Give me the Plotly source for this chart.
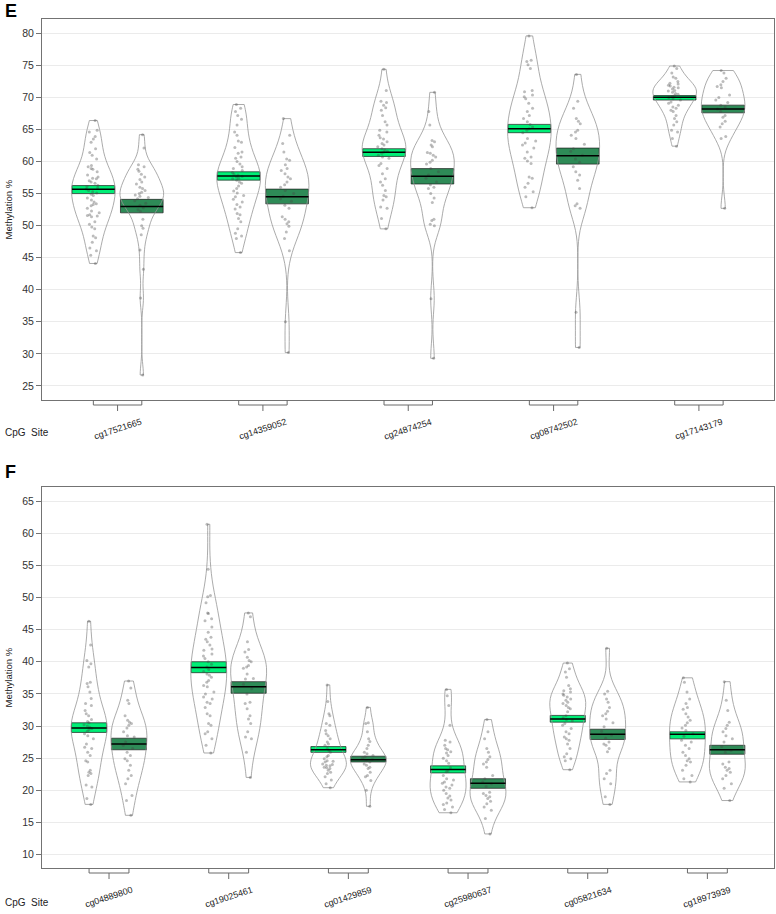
import numpy as np
import plotly.graph_objects as go

# ---------------- data ----------------
E_sites = ["cg17521665", "cg14359052", "cg24874254", "cg08742502", "cg17143179"]
F_sites = ["cg04889800", "cg19025461", "cg01429859", "cg25980637", "cg05821634", "cg18973939"]

# panel E, group A (bright green) / group B (dark green) sample values
E_A1 = [66.4, 64.9, 64.6, 63.9, 63.5, 63.0, 62.0, 61.4, 61.0, 60.4, 59.4, 59.2, 58.9, 58.8, 58.4, 57.9, 57.6, 57.4, 57.3, 57.0,
        56.8, 56.6, 56.3, 56.1, 55.9, 55.7, 55.5, 55.3, 55.1, 54.9, 54.7, 54.3, 54.0, 53.7, 53.4, 53.3, 53.1, 52.7, 52.3, 52.0,
        51.7, 51.6, 51.5, 51.4, 50.6, 50.2, 49.8, 49.5, 48.4, 48.1, 47.4, 46.5, 46.1, 45.4, 44.1]
E_B1 = [64.2, 62.1, 59.5, 59.2, 58.8, 58.5, 58.0, 57.6, 57.2, 56.8, 56.5, 56.0, 55.8, 55.5, 55.2, 55.0, 54.8, 54.6, 54.4, 54.2,
        53.9, 53.5, 53.2, 52.8, 52.5, 52.2, 51.0, 50.0, 49.6, 48.6, 46.2, 43.2, 38.7, 26.7]
E_A2 = [68.9, 68.3, 67.8, 67.2, 66.6, 65.7, 64.6, 64.1, 63.2, 63.0, 62.2, 61.5, 61.3, 60.7, 60.5, 60.0, 59.6, 59.2, 58.9, 58.6,
        58.3, 58.0, 57.9, 57.7, 57.6, 57.4, 57.3, 57.1, 56.8, 56.6, 56.2, 55.8, 55.4, 55.1, 54.7, 54.5, 54.1, 53.7, 53.3, 52.9,
        52.6, 51.9, 51.7, 51.1, 50.6, 49.5, 48.8, 48.4, 48.0, 45.8]
E_B2 = [66.7, 64.1, 62.8, 61.5, 60.4, 60.2, 59.5, 58.9, 58.6, 58.1, 57.6, 57.3, 56.8, 56.4, 56.0, 55.5, 55.0, 54.6, 54.2, 53.8,
        53.2, 52.7, 51.4, 51.0, 50.6, 50.3, 49.9, 49.0, 48.0, 46.1, 35.0, 30.2]
E_A3 = [74.4, 71.1, 69.4, 69.2, 68.8, 68.4, 68.0, 67.2, 66.2, 65.7, 64.9, 64.6, 64.1, 63.7, 63.5, 63.1, 62.8, 62.6, 62.3, 62.0,
        61.8, 61.6, 61.5, 61.3, 61.0, 60.7, 60.5, 59.7, 59.4, 58.9, 58.1, 57.3, 56.8, 56.3, 55.5, 54.7, 54.5, 54.0, 52.9, 52.7,
        51.1, 49.5]
E_B3 = [70.8, 67.8, 65.7, 63.3, 63.1, 62.6, 62.3, 61.4, 61.3, 61.0, 60.7, 60.2, 59.9, 59.6, 58.9, 58.4, 57.9, 57.4, 56.8, 56.4,
        56.0, 55.8, 55.0, 54.3, 53.6, 51.0, 50.8, 50.2, 50.0, 38.6, 29.3]
E_A4 = [79.6, 75.8, 75.6, 75.1, 74.5, 71.1, 70.9, 70.4, 70.1, 69.8, 69.1, 68.3, 67.8, 67.2, 66.7, 66.2, 65.8, 65.4, 65.1, 64.9,
        64.5, 63.6, 63.2, 62.9, 62.6, 62.1, 61.5, 60.7, 60.5, 60.1, 59.7, 57.6, 57.4, 56.6, 56.0, 55.3, 54.5, 52.8]
E_B4 = [73.6, 69.4, 68.3, 66.7, 66.3, 65.9, 64.9, 64.6, 64.1, 63.6, 62.7, 62.0, 61.6, 61.0, 60.4, 59.9, 59.2, 58.4, 57.9, 57.1,
        55.8, 53.4, 53.1, 52.7, 36.5, 31.0]
E_A5 = [74.9, 74.5, 73.8, 73.2, 73.0, 72.5, 72.2, 72.1, 71.9, 71.8, 71.6, 71.5, 71.3, 71.1, 71.0, 70.8, 70.6, 70.5, 70.3, 70.2,
        70.0, 69.8, 69.6, 69.3, 69.1, 68.8, 68.5, 68.3, 68.0, 67.8, 67.2, 66.7, 66.2, 65.7, 64.9, 64.6, 63.6, 62.4]
E_B5 = [74.2, 73.8, 73.0, 72.5, 72.0, 71.7, 71.5, 70.4, 70.0, 69.6, 69.2, 68.8, 68.5, 68.2, 67.8, 67.2, 66.9, 66.3, 65.9, 65.4,
        63.9, 63.6, 52.7]

# panel F samples
F_A1 = [46.3, 42.6, 40.2, 39.7, 39.2, 36.8, 36.6, 36.1, 35.3, 34.3, 33.5, 33.2, 32.4, 31.9, 31.6, 31.0, 30.7, 30.5, 30.2, 30.0,
        29.8, 29.6, 29.4, 29.2, 28.8, 28.5, 28.0, 27.2, 26.7, 26.5, 25.9, 25.4, 24.6, 24.4, 23.1, 22.8, 22.6, 22.3, 20.8, 20.5,
        18.7, 17.8]
F_B1 = [37.0, 35.9, 34.0, 33.5, 31.6, 30.9, 30.6, 30.4, 30.1, 29.7, 29.1, 28.5, 28.3, 27.5, 27.0, 26.5, 25.9, 25.4, 24.9, 24.6,
        23.9, 23.1, 22.3, 21.8, 21.0, 19.2, 18.4, 16.1]
F_A2 = [61.4, 54.4, 50.3, 50.1, 49.2, 47.6, 47.5, 46.7, 46.4, 45.4, 44.6, 43.8, 43.5, 43.1, 42.6, 42.0, 41.8, 41.2, 40.9, 40.5,
        40.0, 39.6, 39.2, 38.8, 38.5, 38.1, 37.9, 37.6, 37.1, 36.8, 36.3, 36.1, 35.3, 35.0, 34.5, 34.2, 33.7, 33.5, 32.9, 31.9,
        31.6, 30.4, 30.1, 29.1, 28.8, 28.0, 27.0, 25.8]
F_B2 = [47.6, 47.0, 43.1, 41.9, 41.5, 40.7, 40.2, 40.0, 39.4, 39.2, 39.0, 38.1, 37.4, 37.3, 36.5, 35.8, 35.0, 33.7, 33.5, 32.7,
        31.6, 31.1, 30.4, 29.1, 28.3, 28.0, 25.9, 22.0]
F_A3 = [36.4, 33.8, 31.9, 31.6, 30.4, 30.1, 29.3, 28.8, 28.5, 28.0, 27.5, 27.2, 27.0, 26.5, 26.2, 25.9, 25.4, 25.2, 24.9, 24.6,
        24.5, 24.4, 24.1, 24.0, 23.9, 23.8, 23.6, 23.5, 23.4, 23.1, 22.8, 22.6, 22.1, 21.6, 21.0, 20.4]
F_B3 = [32.9, 30.5, 30.4, 29.1, 28.0, 27.6, 27.0, 26.5, 25.9, 25.7, 25.4, 25.2, 25.0, 24.8, 24.6, 24.4, 24.1, 23.9, 23.6, 23.4,
        22.8, 22.3, 22.1, 21.5, 20.0, 17.5]
F_A4 = [35.7, 34.7, 33.2, 30.1, 27.8, 27.5, 27.0, 26.5, 26.3, 26.0, 25.8, 25.4, 25.0, 24.6, 24.2, 23.5, 23.0, 22.9, 22.3, 21.8,
        21.6, 21.3, 21.1, 20.8, 20.5, 20.3, 20.0, 19.5, 19.1, 18.8, 18.5, 18.0, 17.8, 17.4, 17.0, 16.5]
F_B4 = [31.0, 29.1, 28.0, 26.5, 25.9, 25.2, 24.8, 24.4, 24.1, 23.6, 22.3, 21.8, 21.3, 21.0, 20.6, 19.7, 19.5, 19.2, 19.0, 18.7,
        18.3, 17.9, 17.4, 16.9, 15.6, 13.2]
F_A5 = [39.8, 38.9, 38.4, 37.6, 36.3, 35.8, 35.5, 35.3, 35.0, 34.8, 34.5, 34.2, 34.0, 33.7, 33.5, 33.2, 32.9, 32.7, 32.2, 31.6,
        31.3, 31.0, 30.8, 30.4, 30.1, 29.6, 29.1, 28.8, 28.3, 28.0, 27.8, 27.2, 26.5, 25.7, 25.2, 24.9, 24.6, 23.2]
F_B5 = [42.1, 35.4, 35.0, 34.2, 33.7, 32.9, 32.3, 31.9, 31.6, 31.1, 30.5, 29.9, 29.2, 28.6, 28.1, 27.5, 27.2, 27.0, 26.5, 26.0,
        23.1, 22.6, 21.8, 21.0, 19.0, 17.8]
F_A6 = [37.5, 36.8, 35.3, 34.2, 33.5, 32.9, 32.6, 31.9, 31.4, 30.9, 30.5, 30.1, 29.7, 29.3, 28.8, 28.4, 27.8, 27.5, 27.0, 26.5,
        25.9, 25.4, 24.9, 24.6, 24.4, 23.9, 23.1, 22.3, 21.8, 21.3]
F_B6 = [36.9, 34.0, 32.4, 30.6, 30.1, 29.6, 29.1, 28.5, 28.0, 27.5, 26.8, 26.2, 25.9, 24.4, 24.1, 23.6, 23.4, 23.1, 22.8, 22.3,
        21.8, 21.0, 20.3, 18.4]

# mean and interval band (lo / hi) per site
E_mean_A = [55.68, 57.76, 61.46, 65.10, 70.05]
E_lo_A = [55.00, 57.10, 60.80, 64.50, 69.60]
E_hi_A = [56.25, 58.40, 62.00, 65.80, 70.30]
E_mean_B = [53.00, 54.50, 57.70, 60.90, 68.20]
E_lo_B = [52.00, 53.40, 56.50, 59.60, 67.60]
E_hi_B = [54.10, 55.70, 58.90, 62.10, 68.80]

F_mean_A = [29.70, 39.10, 26.30, 23.25, 31.10, 28.70]
F_lo_A = [29.00, 38.30, 25.90, 22.70, 30.60, 28.00]
F_hi_A = [30.50, 40.00, 26.80, 23.80, 31.65, 29.10]
F_mean_B = [27.20, 36.10, 24.75, 21.10, 28.70, 26.30]
F_lo_B = [26.30, 35.10, 24.40, 20.30, 27.90, 25.60]
F_hi_B = [28.10, 36.90, 25.30, 21.80, 29.50, 27.00]

E_ticks = [25, 30, 35, 40, 45, 50, 55, 60, 65, 70, 75, 80]
F_ticks = [10, 15, 20, 25, 30, 35, 40, 45, 50, 55, 60, 65]

# ---------------- styling / layout helpers ----------------
COL_A = "#00EE76"
COL_B = "#2E8B57"
FONT = "Liberation Sans, Arial, sans-serif"
W, H = 776, 914
ML, MR, MT, MB = 42, 2, 19, 35
PW = W - ML - MR
PH = H - MT - MB


def py(pix):  # pixel row -> paper y
    return (H - MB - pix) / PH


def px(pix):  # pixel column -> paper x
    return (pix - ML) / PW


def xpos(i, g):
    return 3 * i + 1 + g


fig = go.Figure()


def add_panel(A_lists, B_lists, mA, lA, hA, mB, lB, hB, xa, ya, yb):
    for i, (a, b) in enumerate(zip(A_lists, B_lists)):
        for g, vals in ((0, a), (1, b)):
            v = np.array(vals, dtype=float)
            n = len(v)
            sd = v.std(ddof=1)
            q75, q25 = np.percentile(v, [75, 25])
            bw = 0.9 * min(sd, (q75 - q25) / 1.34) * n ** -0.2
            fig.add_trace(go.Violin(
                x=[xpos(i, g)] * n, y=v, xaxis=xa, yaxis=ya,
                width=0.9, scalemode="width", bandwidth=bw, spanmode="hard",
                points="all", pointpos=0, jitter=0.35,
                marker=dict(size=3, color="rgba(70,70,70,0.36)"),
                line=dict(color="#959595", width=0.8),
                fillcolor="rgba(255,255,255,0)",
                hoverinfo="skip", showlegend=False))
    pos, base, hgt, cols, mx, my = [], [], [], [], [], []
    for i in range(len(A_lists)):
        for g, (m, lo, hi, c) in enumerate(((mA[i], lA[i], hA[i], COL_A), (mB[i], lB[i], hB[i], COL_B))):
            p = xpos(i, g)
            pos.append(p)
            base.append(lo)
            hgt.append(hi - lo)
            cols.append(c)
            mx += [p - 0.44, p + 0.44, None]
            my += [m, m, None]
    fig.add_trace(go.Bar(x=pos, y=hgt, base=base, width=0.88, xaxis=xa, yaxis=ya,
                         marker=dict(color=cols, line=dict(color="#1e1e1e", width=0.7)),
                         hoverinfo="skip", showlegend=False))
    fig.add_trace(go.Scatter(x=mx, y=my, mode="lines", xaxis=xa, yaxis=ya,
                             line=dict(color="black", width=1.5),
                             hoverinfo="skip", showlegend=False))
    # brackets under each pair
    bx, by = [], []
    for i in range(len(A_lists)):
        p0, p1 = xpos(i, 0), xpos(i, 1)
        mid = (p0 + p1) / 2
        bx += [p0, p0, p1, p1, None, mid, mid, None]
        by += [11, 6, 6, 11, None, 6, 0, None]
    fig.add_trace(go.Scatter(x=bx, y=by, mode="lines", xaxis=xa, yaxis=yb,
                             line=dict(color="#6a6a6a", width=1),
                             hoverinfo="skip", showlegend=False))


add_panel([E_A1, E_A2, E_A3, E_A4, E_A5], [E_B1, E_B2, E_B3, E_B4, E_B5],
          E_mean_A, E_lo_A, E_hi_A, E_mean_B, E_lo_B, E_hi_B, "x", "y", "y3")
add_panel([F_A1, F_A2, F_A3, F_A4, F_A5, F_A6], [F_B1, F_B2, F_B3, F_B4, F_B5, F_B6],
          F_mean_A, F_lo_A, F_hi_A, F_mean_B, F_lo_B, F_hi_B, "x2", "y2", "y4")

LINE = "#737373"
GRID = "#ebebeb"
xcommon = dict(showgrid=False, showticklabels=False, ticks="", zeroline=False,
               showline=True, mirror=True, linecolor=LINE, linewidth=1)
ycommon = dict(showgrid=True, gridcolor=GRID, gridwidth=1, zeroline=False,
               showline=True, mirror=True, linecolor=LINE, linewidth=1,
               ticks="outside", ticklen=5, tickcolor=LINE, tickwidth=1,
               tickfont=dict(family=FONT, size=10.5, color="#333333"))

E_top, E_bot, F_top, F_bot = 19, 400, 487, 868

fig.update_layout(
    width=W, height=H,
    margin=dict(l=ML, r=MR, t=MT, b=MB, autoexpand=False),
    paper_bgcolor="white", plot_bgcolor="white",
    barmode="overlay", violinmode="overlay", violingap=0, violingroupgap=0,
    showlegend=False,
    font=dict(family=FONT, color="#222222"),
    xaxis=dict(domain=[0, 1], range=[-0.06, 15.05], anchor="y", **xcommon),
    yaxis=dict(domain=[py(E_bot), py(E_top)], range=[22.8, 82.24], anchor="x",
               tickvals=E_ticks, **ycommon),
    yaxis3=dict(domain=[py(E_bot + 11), py(E_bot)], range=[0, 11], anchor="x", visible=False),
    xaxis2=dict(domain=[0, 1], range=[-0.18, 18.17], anchor="y2", **xcommon),
    yaxis2=dict(domain=[py(F_bot), py(F_top)], range=[7.9, 67.2], anchor="x2",
                tickvals=F_ticks, **ycommon),
    yaxis4=dict(domain=[py(F_bot + 11), py(F_bot)], range=[0, 11], anchor="x2", visible=False),
)

ann = []
for sites, xa, lab_pix, cpg_pix, mid_pix, panel, panel_pix in (
        (E_sites, "x", 429, 432, (E_top + E_bot) / 2, "E", 11.5),
        (F_sites, "x2", 897, 902, (F_top + F_bot) / 2, "F", 472.5)):
    for i, s in enumerate(sites):
        ann.append(dict(x=(xpos(i, 0) + xpos(i, 1)) / 2, xref=xa, y=py(lab_pix), yref="paper",
                        text=s, textangle=-18, showarrow=False, xanchor="center", yanchor="middle",
                        font=dict(family=FONT, size=9, color="#222222")))
    ann.append(dict(x=px(27), y=py(cpg_pix), xref="paper", yref="paper", text="CpG\u00a0 Site",
                    showarrow=False, xanchor="center", yanchor="middle",
                    font=dict(family=FONT, size=10, color="#222222")))
    ann.append(dict(x=px(8), y=py(mid_pix), xref="paper", yref="paper", text="Methylation %",
                    textangle=-90, showarrow=False, xanchor="center", yanchor="middle",
                    font=dict(family=FONT, size=9.5, color="#222222")))
    ann.append(dict(x=px(3), y=py(panel_pix), xref="paper", yref="paper", text="<b>%s</b>" % panel,
                    showarrow=False, xanchor="left", yanchor="middle",
                    font=dict(family=FONT, size=18, color="black")))
fig.update_layout(annotations=ann)

fig.write_html("out.html", config={"displayModeBar": False},
               post_script="document.body.style.margin='0';")
